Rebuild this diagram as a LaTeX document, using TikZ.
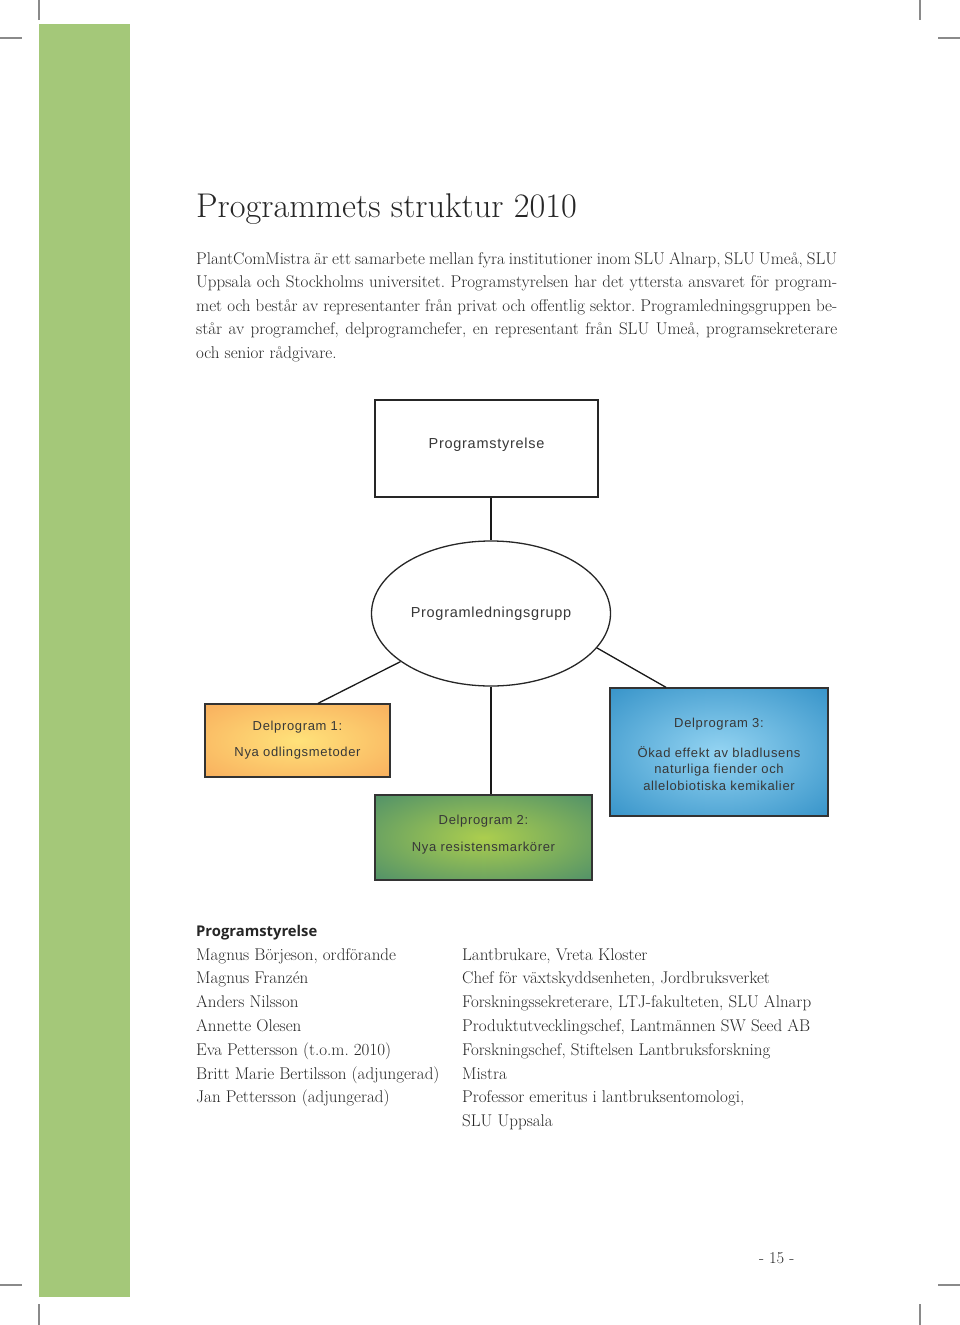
\documentclass[tikz,border=0pt]{standalone}
\usepackage{fontspec}
\usetikzlibrary{shapes.geometric,calc}
\newfontfamily\dfont[LetterSpace=5]{Liberation Sans}
\newfontfamily\hfont{Open Sans}
\frenchspacing
\definecolor{barGreen}{HTML}{A4C879}
\definecolor{cropGray}{HTML}{8A8A8A}
\definecolor{txt}{HTML}{262626}
\definecolor{dtxt}{HTML}{383838}
\definecolor{orIn}{HTML}{FFE27A}
\definecolor{orOut}{HTML}{F8AC5C}
\definecolor{grIn}{HTML}{ACCE4E}
\definecolor{grOut}{HTML}{468A6C}
\definecolor{blIn}{HTML}{94D4F2}
\definecolor{blOut}{HTML}{2C8CC4}
\pgfdeclareradialshading{orshade}{\pgfpoint{0bp}{0bp}}{color(0bp)=(orIn);color(38bp)=(orOut);color(50bp)=(orOut)}
\pgfdeclareradialshading{grshade}{\pgfpoint{0bp}{0bp}}{color(0bp)=(grIn);color(40bp)=(grOut);color(50bp)=(grOut)}
\pgfdeclareradialshading{blshade}{\pgfpoint{0bp}{0bp}}{color(0bp)=(blIn);color(40bp)=(blOut);color(50bp)=(blOut)}
\tikzset{
  crop/.style={draw=cropGray, line width=1.4pt},
  plainbox/.style={draw=black!85, line width=1.3pt, fill=white, inner sep=0pt, text=dtxt,
    font={\dfont\fontsize{14.5}{17}\selectfont}},
  dpbox/.style={draw=black!80, line width=1.3pt, inner sep=0pt, align=center, text=dtxt,
    font={\dfont\fontsize{13}{16.5}\selectfont}},
  conn/.style={draw=black!90, line width=1.3pt},
  bodyline/.style={anchor=base west, inner sep=0pt, text=txt, font={\fontsize{17}{23.5}\selectfont}},
}
\begin{document}
\begin{tikzpicture}[x=1pt, y=-1pt]
\useasboundingbox (0,0) rectangle (960,1325);
% crop marks
\draw[crop] (39,0) -- (39,20);
\draw[crop] (0,38) -- (22,38);
\draw[crop] (920,0) -- (920,20);
\draw[crop] (938,38) -- (960,38);
\draw[crop] (0,1285) -- (22,1285);
\draw[crop] (39,1304) -- (39,1325);
\draw[crop] (938,1285) -- (960,1285);
\draw[crop] (920,1304) -- (920,1325);
% green bar
\fill[barGreen] (39,24) rectangle (130,1297);
% title
\node[anchor=base west, inner sep=0pt, text=txt, font={\fontsize{34.3}{40}\selectfont}] (title) at (196,217) {Programmets struktur 2010};
% intro paragraph
\node[bodyline] (p1) at (196,264) {\makebox[641pt][s]{PlantComMistra är ett samarbete mellan fyra institutioner inom SLU Alnarp, SLU Umeå, SLU}};
\node[bodyline] (p2) at (196,287.5) {\makebox[641pt][s]{Uppsala och Stockholms universitet. Programstyrelsen har det yttersta ansvaret för program-}};
\node[bodyline] (p3) at (196,311) {\makebox[641pt][s]{met och består av representanter från privat och offentlig sektor. Programledningsgruppen be-}};
\node[bodyline] (p4) at (196,334.5) {\makebox[641pt][s]{står av programchef, delprogramchefer, en representant från SLU Umeå, programsekreterare}};
\node[bodyline] (p5) at (196,358) {och senior rådgivare.};
% diagram
\node[plainbox, text depth=10pt, minimum width=223, minimum height=97] (ps) at (486.5,448.5) {Programstyrelse};
\node[plainbox, ellipse, minimum width=239, minimum height=145] (plg) at (491,613.5) {Programledningsgrupp};
\node[dpbox, shading=orshade, minimum width=185, minimum height=73] (dp1) at (297.5,740.5)
  {Delprogram 1:\\[9.5pt]Nya odlingsmetoder};
\node[dpbox, shading=grshade, text depth=9pt, minimum width=217, minimum height=85] (dp2) at (483.5,837.5)
  {Delprogram 2:\\[10.5pt]Nya resistensmarkörer};
\node[dpbox, shading=blshade, minimum width=218, minimum height=128] (dp3) at (719,752)
  {\rule{0pt}{14pt}Delprogram 3:\\[13.5pt]Ökad effekt av bladlusens\\naturliga fiender och\\allelobiotiska kemikalier};
\draw[conn] (plg.north |- ps.south) -- (plg.north);
\draw[conn] (plg.208.6) -- ($(dp1.north)+(20.5,0)$);
\draw[conn] (plg.south) -- (plg.south |- dp2.north);
\draw[conn] (plg.342.4) -- ($(dp3.north)+(-53,0)$);
% board list
\node[anchor=base west, inner sep=0pt, text=txt, font={\hfont\bfseries\fontsize{14.8}{17}\selectfont}] (board) at (196,936) {Programstyrelse};
\foreach \t [count=\i] in {{Magnus Börjeson, ordförande},{Magnus Franzén},{Anders Nilsson},{Annette Olesen},{Eva Pettersson (t.o.m. 2010)},{Britt Marie Bertilsson (adjungerad)},{Jan Pettersson (adjungerad)}}
  \node[bodyline] (L\i) at (196,{960+23.8*(\i-1)}) {\t};
\foreach \t [count=\i] in {{Lantbrukare, Vreta Kloster},{Chef för växtskyddsenheten, Jordbruksverket},{Forskningssekreterare, LTJ-fakulteten, SLU Alnarp},{Produktutvecklingschef, Lantmännen SW Seed AB},{Forskningschef, Stiftelsen Lantbruksforskning},{Mistra},{Professor emeritus i lantbruksentomologi,},{SLU Uppsala}}
  \node[bodyline] (R\i) at (462,{960+23.8*(\i-1)}) {\t};
% page number
\node[anchor=base west, inner sep=0pt, text=txt, font={\fontsize{16.5}{18}\selectfont}] (page) at (759,1263) {- 15 -};
\end{tikzpicture}
\end{document}
